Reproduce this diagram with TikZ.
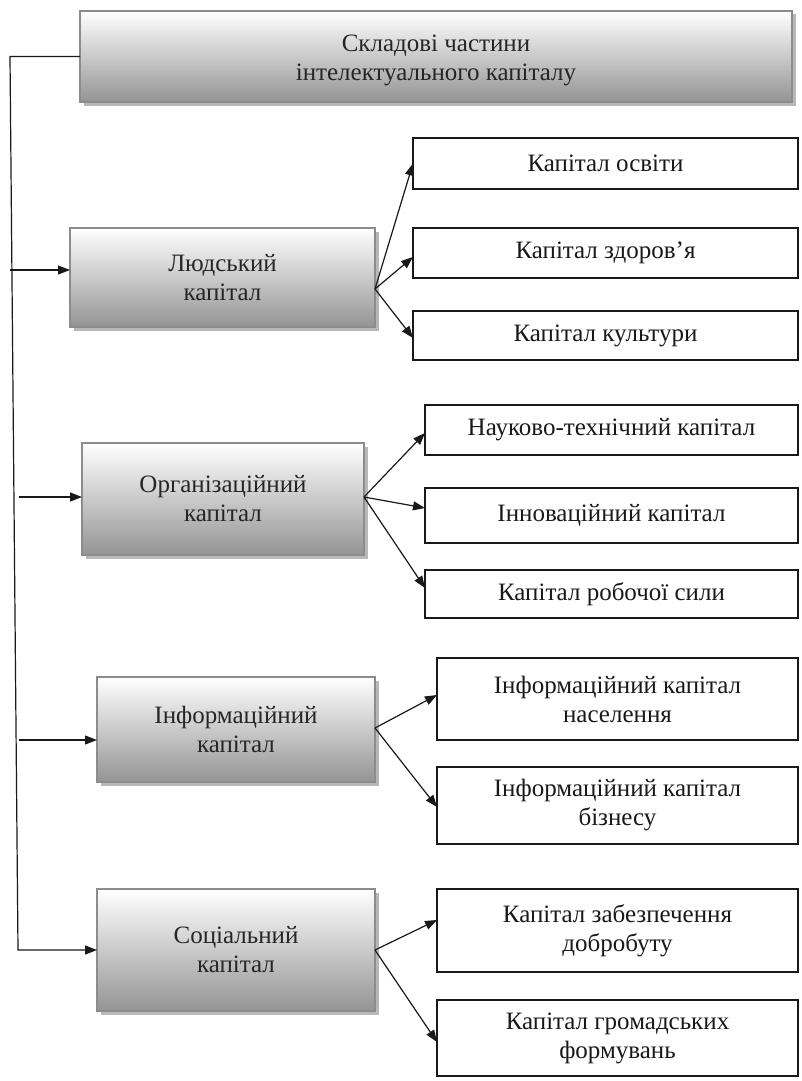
\documentclass[tikz,border=0pt]{standalone}
\usepackage{fontspec}
\setmainfont{Liberation Serif}
\usetikzlibrary{arrows.meta,calc,shadows}
\begin{document}
\begin{tikzpicture}[x=1pt,y=-1pt,
  txt/.style={font=\fontsize{25}{29}\selectfont, align=center, inner sep=0pt, outer sep=0pt},
  gbox/.style={txt, draw=black!45, line width=1.8pt, top color=white, bottom color=black!42,
    drop shadow={shadow xshift=3.5pt, shadow yshift=-3.5pt, fill=black!28, opacity=1},
    text=black!85},
  wbox/.style={txt, draw=black!90, line width=1.8pt, fill=white, text=black!90},
  arr/.style={-{Triangle[length=12pt,width=9pt]}, line width=1.2pt, draw=black!90},
  conn/.style={line width=1.2pt, draw=black!90}]
\useasboundingbox (0,0) rectangle (802,1081);

% main boxes
\node[gbox, minimum width=712pt, minimum height=91pt, text height=54pt, text depth=6pt] (top) at (436,56.5)
  {Складові частини\\інтелектуального капіталу};
\node[gbox, minimum width=305pt, minimum height=99pt] (hum) at (222.5,277.5) {Людський\\капітал};
\node[gbox, minimum width=282pt, minimum height=112pt] (org) at (223,499) {Організаційний\\капітал};
\node[gbox, minimum width=278pt, minimum height=105pt] (inf) at (236,729.5) {Інформаційний\\капітал};
\node[gbox, minimum width=278pt, minimum height=122pt] (soc) at (236,950) {Соціальний\\капітал};

% right boxes
\node[wbox, minimum width=385pt, minimum height=51pt] (r1) at (605.5,163.5) {Капітал освіти};
\node[wbox, minimum width=385pt, minimum height=50pt] (r2) at (605.5,253) {Капітал здоров’я};
\node[wbox, minimum width=385pt, minimum height=49pt] (r3) at (605.5,335.5) {Капітал культури};
\node[wbox, minimum width=373pt, minimum height=50pt] (r4) at (611.5,430) {Науково-технічний капітал};
\node[wbox, minimum width=373pt, minimum height=55pt] (r5) at (611.5,515.5) {Інноваційний капітал};
\node[wbox, minimum width=373pt, minimum height=48pt] (r6) at (611.5,594) {Капітал робочої сили};
\node[wbox, minimum width=361pt, minimum height=82pt] (r7) at (617.5,699) {Інформаційний капітал\\населення};
\node[wbox, minimum width=361pt, minimum height=77pt] (r8) at (617.5,805.5) {Інформаційний капітал\\бізнесу};
\node[wbox, minimum width=361pt, minimum height=83pt] (r9) at (617.5,930.5) {Капітал забезпечення\\добробуту};
\node[wbox, minimum width=361pt, minimum height=76pt] (r10) at (617.5,1038) {Капітал громадських\\формувань};

% left trunk
\coordinate (c1) at (10,56.5);
\coordinate (c2) at (18,950);
\coordinate (l1) at (10,270);
\coordinate (l2) at (19,497);
\coordinate (l3) at (19,740);
\draw[arr] (top.west) -- (c1) -- (c2) -- (soc.west);
\draw[arr] (l1) -- ($(hum.west)+(0,-7.5)$);
\draw[arr] (l2) -- ($(org.west)+(0,-2)$);
\draw[arr] (l3) -- ($(inf.west)+(0,10.5)$);

% fan points
\coordinate (hf) at ($(hum.east)+(0,11.5)$);
\coordinate (of) at ($(org.east)+(0,-2)$);
\coordinate (if) at ($(inf.east)+(0,-1.5)$);
\coordinate (sf) at (soc.east);

\draw[arr] (hf) -- (r1.west);
\draw[arr] (hf) -- ($(r2.west)+(0,4)$);
\draw[arr] (hf) -- ($(r3.west)+(0,2.5)$);
\draw[arr] (of) -- ($(r4.west)+(0,3)$);
\draw[arr] (of) -- ($(r5.west)+(0,-7.5)$);
\draw[arr] (of) -- ($(r6.west)+(0,-6)$);
\draw[arr] (if) -- ($(r7.west)+(0,-4)$);
\draw[arr] (if) -- ($(r8.west)+(0,1.5)$);
\draw[arr] (sf) -- ($(r9.west)+(0,-10.5)$);
\draw[arr] (sf) -- ($(r10.west)+(0,4)$);
\end{tikzpicture}
\end{document}
